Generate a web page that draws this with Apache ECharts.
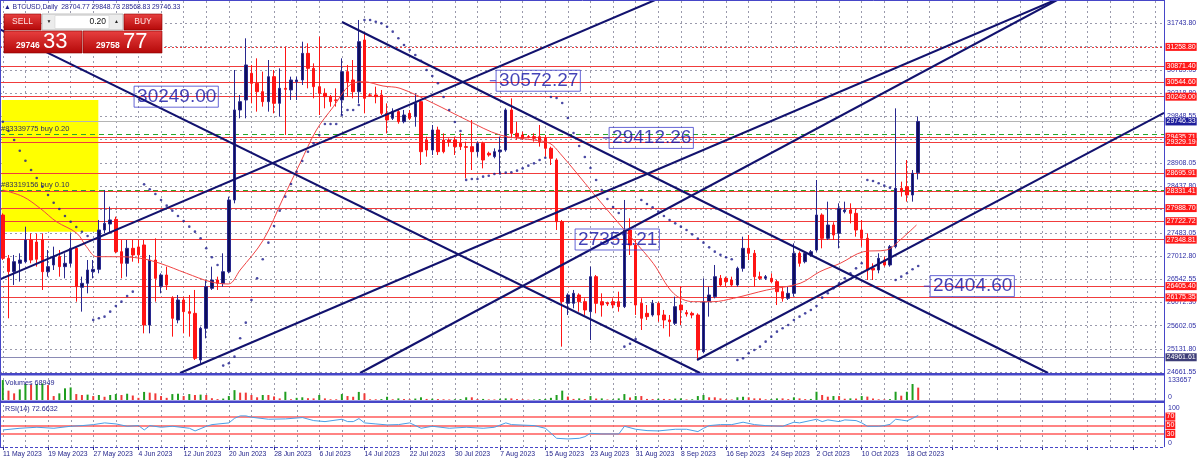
<!DOCTYPE html>
<html><head><meta charset="utf-8">
<script src="https://cdn.jsdelivr.net/npm/echarts@6/dist/echarts.min.js"></script>
<style>html,body{margin:0;padding:0;background:#fff;}#c{width:1200px;height:462px;}</style>
</head><body><div id="c"></div>
<script>
// ---------------- DATA ----------------
const symbolTitle = 'BTCUSD,Daily';
const firstDay = [2023, 4, 11];           // 11 May 2023
const totalSlots = 206;                   // bars visible incl. empty right margin

const opens = [27848,26969,26700,26868,26901,27341,27300,27341,26698,26834,
27003,26800,26868,27172,26381,26462,26698,26746,27544,27665,
27760,27104,26868,27172,27200,27240,25616,26935,26400,26631,
26158,25718,26124,25887,25853,24906,25549,26360,26529,26462,
26698,28153,29979,30182,30723,30520,30351,30148,30655,30114,
30418,30385,30553,30587,31128,30824,30452,30317,30249,30182,
30182,30757,30587,30351,31399,30283,30283,30283,29911,29810,
29945,29742,29911,29843,30148,29370,29167,29573,29370,29370,
29370,29302,29235,29235,29133,29302,29100,29032,29133,29167,
29979,29505,29471,29438,29438,29438,29404,29201,28964,27713,
26056,26056,26225,26090,25887,26597,26090,26070,26090,26090,
25989,27544,27239,26056,25853,25819,26056,25819,25718,25650,
26022,25867,25853,25819,25075,26090,26191,26563,26563,26529,
26428,26766,27172,27071,26597,26563,26563,26496,26293,26158,
26259,27071,26901,27037,27138,27848,27375,27645,27476,27916,
27949,27882,27544,27375,26766,26732,26935,26834,27206,28389,
28423,28254,28704.77];
const closes = [26969,26700,26901,26935,27341,26935,26950,26698,26800,27003,
26800,26868,27172,26394,26462,26732,26746,27544,27679,27747,
27104,26868,27172,27037,27040,25616,26935,26563,26631,26428,
25752,26124,25887,25853,24940,25549,26394,26529,26462,26698,
28153,29979,30148,30892,30520,30351,30148,30655,30114,30418,
30398,30587,30587,31128,30824,30452,30317,30249,30148,30175,
30757,30553,30351,31365,30216,30277,30249,29911,29776,29945,
29742,29877,29810,30114,29133,29167,29573,29133,29133,29336,
29235,29235,29221,29133,29302,28964,29066,29133,29167,29979,
29505,29438,29404,29424,29404,29336,29201,28998,27713,26090,
26225,26259,26090,25921,26597,26056,26022,26043,26022,25989,
27544,27239,26022,25752,25786,26056,25819,25718,25684,25989,
25921,25840,25819,25109,26090,26225,26597,26428,26496,26428,
26766,27172,27071,26597,26563,26597,26496,26293,26158,26259,
27071,26868,27071,27104,27848,27375,27645,27442,27983,27949,
27882,27544,27375,26732,26732,26969,26834,27206,28389,28322,
28254,28694,29746.33];
const lows = [26935,25752,26428,26496,26868,26868,26800,26327,26597,26732,
26597,26563,26800,26090,25887,26259,26563,26665,27476,27476,
27071,26563,26597,26901,26870,25447,25447,26090,26259,26327,
25380,25650,25447,25380,24906,24839,25346,26327,26327,26394,
26665,28085,29810,29810,30114,29945,30047,29945,29911,29843,
29471,30182,30182,30486,30418,30216,29877,30013,30047,30047,
29877,30249,30216,30114,29911,30249,30114,29877,29505,29776,
29700,29708,29776,29640,28863,29032,29066,29066,29100,29235,
29066,29167,28592,28761,29032,28795,29032,28998,28694,29133,
29404,29370,29370,29404,29336,29235,29032,28863,27544,25177,
25820,25955,25887,25820,25312,25853,25786,26002,25955,25887,
25960,27037,25820,25515,25718,25786,25684,25549,25380,25616,
25616,25786,25752,24906,25042,25786,26158,26394,26394,26394,
26394,26698,26935,26394,26529,26529,26462,26022,26090,26124,
26191,26800,26868,27003,27104,27172,27341,27341,27172,27882,
27679,27409,27206,26529,26529,26665,26800,26800,27172,28221,
28119,28119,28568.83];
const highs = [27882,27037,27037,27071,27611,27476,27470,27476,27138,27206,
27138,27071,27476,27206,26598,26935,26935,27747,28356,28018,
27814,27341,27341,27341,27340,27341,27037,27375,26665,26800,
26200,26225,26191,26225,26327,25583,26529,26800,26597,27071,
28220,30790,30283,31433,30892,31027,30757,30993,30790,30824,
31264,30655,30655,31365,31331,30925,31467,30418,30283,30418,
31027,30892,30993,31805,31534,30317,30452,30385,30114,30013,
30000,29979,29979,30317,30182,29438,29674,29640,29505,29404,
29438,29505,29336,29776,29336,29336,29133,29201,29438,30013,
30215,29742,29539,29471,29505,29674,29471,29235,28998,27747,
26259,26327,26259,26158,26800,26631,26259,26090,26158,26293,
28153,27781,27341,26158,26022,26124,26090,25921,25819,26191,
26394,25921,25887,25853,26563,26394,26834,26631,26597,26597,
26800,27409,27442,27138,26698,26631,26665,26529,26394,26394,
27273,27110,27104,27138,28558,27882,28119,27700,28085,28119,
28085,27983,27747,27476,26868,27071,27003,27240,30012,28525,
28964,28761,29848.73];

const volumes = [111000,52000,37000,59000,89000,86000,89000,92000,83000,22000,
37000,65000,70000,33000,28000,30000,22000,28000,18000,28000,
33000,28000,35000,25000,12000,45000,41000,37000,22000,12000,
33000,35000,22000,33000,28000,30000,28000,10000,5000,8000,
22000,55000,41000,41000,28000,15000,28000,28000,20000,9000,
46000,4000,12000,15000,10000,9000,28000,9000,4000,4000,
33000,22000,18000,45000,37000,4000,4000,5000,18000,4000,
9000,5000,4000,8000,15000,6000,7000,5000,4000,3000,
4000,5000,15000,15000,5000,6000,3000,3000,7000,9000,
9000,5000,4000,2000,3000,5000,6000,12000,28000,52000,
19000,6000,9000,5000,22000,8000,9000,3000,4000,9000,
33000,14000,22000,22000,6000,5000,7000,6000,5000,8000,
9000,3000,4000,22000,28000,15000,15000,9000,4000,3000,
15000,18000,15000,9000,9000,4000,5000,9000,9000,5000,
15000,9000,5000,6000,46000,28000,18600,22000,22000,7000,
9000,8000,22000,19000,9000,4000,3000,5000,46000,24000,
46000,89000,68949];
const volumeMax = 133657;

// Parabolic SAR dots [bar, price]
const sarPoints = [[0,29741],[1,29552],[2,29369],[3,29152],[4,28950],[5,28761],[6,28599],[7,28423],[8,28254],[9,28098],
[10,27970],[11,27828],[12,27712],[13,27605],[14,27509],[15,27422],
[16,25720],[17,25752],[18,25786],[19,25887],[20,26002],[21,26090],[22,26205],[23,26293],
[25,28470],[26,28369],[27,28274],[28,28153],[29,28038],[30,27936],[31,27828],[32,27727],[33,27612],[34,27510],[35,27375],[36,27172],[37,26990],[38,26834],
[39,24792],[40,24839],[41,24974],[42,25346],[43,25664],[44,26124],[45,26563],[46,26949],[47,27287],[48,27625],[49,27936],[50,28220],[51,28477],[52,28727],[53,28944],[54,29133],[55,29302],[56,29471],[57,29695],[58,29695],[59,29695],[60,29877],[61,29979],[62,29979],[63,30080],
[64,31805],[65,31805],[66,31770],[67,31737],[68,31669],[69,31568],[70,31433],[71,31297],[72,31196],[73,31095],[74,30979],[75,30790],[76,30668],[77,30520],[78,30242],[79,29978],[80,29735],[81,29552],
[82,28560],[83,28579],[84,28579],[85,28626],[86,28646],[87,28680],[88,28690],[89,28707],[90,28714],[91,28748],[92,28795],[93,28849],[94,28896],[95,28964],[96,29010],
[97,30242],[98,30222],[99,30120],[100,29816],[101,29512],[102,29248],[103,29025],[104,28802],[105,28558],[106,28356],[107,28173],[108,28011],[109,27889],
[110,25177],[111,25237],[112,25330],
[113,28153],[114,28072],[115,28004],[116,27916],[117,27828],[118,27747],[119,27679],[120,27612],[121,27544],[122,27456],[123,27368],[124,27287],[125,27192],[126,27104],[127,27040],[128,26990],[129,26950],
[130,24906],[131,24940],[132,25042],[133,25109],[134,25177],[135,25278],[136,25380],[137,25481],[138,25549],[139,25616],[140,25718],[141,25786],[142,25853],[143,25921],[144,26002],[145,26171],[146,26259],[147,26360],[148,26462],[149,26563],[150,26665],[151,26766],[152,26868],
[153,28558],[154,28538],[155,28491],[156,28444],[157,28403],
[158,26529],[159,26597],[160,26665],[161,26746],[162,26814]];

// red moving average, read at points [bar, price]
const maPoints = [[0,28355],[3.6,28219],[6.6,27984],[9.5,27712],[13.1,27477],[14.8,27205],[16.6,27002],[20.2,27002],[24.3,26970],[27.8,26868],
[32.5,26665],[36.7,26495],[39.9,26448],[42,26732],[46.1,27341],[49.6,28187],[52.6,28897],[55.5,29573],[58.5,30045],[61.4,30486],
[63.8,30553],[67.3,30465],[70.3,30419],[76.2,30114],[82.1,29776],[88,29471],[93.9,29370],[96.8,29303],[98.6,29100],[101.6,28694],
[104.5,28288],[108,27813],[111.6,27341],[115.1,26868],[118.7,26259],[122.2,26089],[125.7,26089],[129.3,26158],[135.2,26326],[141.1,26462],
[144.6,26698],[148.2,26868],[152.3,27103],[156.4,27138],[158.8,27341],[161.7,27645]];

// RSI(14) read at points [bar, value]
const rsiPoints = [[0,39.2],[3,43.1],[6,45.4],[9,43.1],[12,47.7],[14,49.2],[16,51.5],[18,55.4],[20,53.0],[22,47.7],[24,49.2],[25,39.2],[26,49.2],[28,45.4],[30,47.7],[33,43.1],[34,36.9],[36,47.7],[37,51.5],[40,55.4],[41,66.1],[42,71.5],[43,71.5],[44,68.4],[47,63.8],[50,64.6],[53,67.7],[55,60.7],[57,58.4],[60,63.8],[61,58.4],[62,58.4],[63,65.3],[64,55.4],[66,53.0],[68,50.8],[70,51.5],[72,55.4],[74,43.1],[76,47.7],[79,43.1],[82,45.4],[85,43.1],[87,45.4],[89,55.4],[90,51.5],[94,49.2],[96,43.1],[98,20.0],[100,18.5],[102,20.0],[103,23.8],[104,31.5],[106,30.0],[109,30.0],[110,47.7],[112,40.8],[114,37.7],[116,36.9],[119,40.8],[121,40.8],[123,35.4],[124,43.1],[125,49.2],[127,51.5],[129,51.5],[131,57.0],[133,51.5],[135,49.2],[138,47.7],[140,57.0],[141,55.4],[144,63.8],[145,58.4],[146,62.3],[148,58.4],[149,62.3],[151,60.7],[152,55.4],[153,47.7],[155,47.7],[156,49.2],[157,52.0],[158,63.8],[159,62.0],[160,60.0],[161,66.0],[162,72.6632]];
const rsiLevels = [70, 50, 30];
const rsiLast = 72.6632;
const volumeLast = 68949;

// right price-axis tick labels
const priceTicks = [31743.80,31273.55,30789.05,30318.80,29848.55,29378.30,28908.05,28437.80,27967.55,27483.05,27012.80,26542.55,26072.30,25602.05,25131.80,24661.55];
// horizontal support / resistance levels
const redLevels = [30871.40,30544.60,30249.00,29435.71,29329.19,28695.91,28331.41,27988.70,27722.72,27348.81,26405.40,26175.35];
const dottedLevel = 31258.80;
const lowLevel = 24961.61;
// open orders
const orders = [{price: 29486, text: '#83339775 buy 0.20'}, {price: 28356, text: '#83319156 buy 0.10'}];
// trend lines: [[bar, price], [bar, price]]
const trendLines = [
  [[-0.5,31612],[123.39,24642.3]],
  [[60.03,31764],[184.98,24642.3]],
  [[-0.5,26541],[115.43,32210.5]],
  [[31.36,24642.3],[186.22,32210.5]],
  [[63.22,24642.3],[186.58,32210.5]],
  [[122.86,24906],[205.5,29918]]
];
// price annotations: price, bar where the box begins, and whether a pointer tick precedes it
const annotations = [{price:30249.00, at:23.22, tick:false},{price:30572.27, at:87.29, tick:true},{price:29412.26, at:107.29, tick:true},{price:27351.21, at:101.27, tick:false},{price:26404.60, at:164.1, tick:true}];
// highlighted zone [bar, price] corners
const zone = [[-0.2, 30181], [16.9, 27509]];
const bid = 29746, bidFrac = '33', ask = 29758, askFrac = '77', lots = '0.20';

// ---------------- BUILD ----------------
const months = ['Jan','Feb','Mar','Apr','May','Jun','Jul','Aug','Sep','Oct','Nov','Dec'];
const categories = [];
for (let i = 0; i < totalSlots; i++) {
  if (i < opens.length) {
    const d = new Date(Date.UTC(firstDay[0], firstDay[1], firstDay[2] + i));
    categories.push(d.getUTCDate() + ' ' + months[d.getUTCMonth()] + ' ' + d.getUTCFullYear());
  } else categories.push('');
}
const verticals = [];
for (let k = 0; k < totalSlots; k += 4) verticals.push({xAxis: k});

const FONT = 'Liberation Sans, Arial, sans-serif';
const NAVY = '#12126e';
const FRAME = '#4646c8';
const GRIDC = '#9a9aac';
const LEVELRED = '#f03c3c';
const VMIN = -0.5, VMAX = totalSlots - 0.5;
const PMIN = 24642.3, PMAX = 32210.5;

const candleData = opens.map((o, i) => [o, closes[i], lows[i], highs[i]]);
const volData = volumes.map((v, i) => ({value: v, itemStyle: {color: (i === 0 || v > volumes[i-1]) ? '#1f9e1f' : '#f03838'}}));

function gridLineSeries(xIdx, yIdx, yVal) {
  return {type:'line', xAxisIndex:xIdx, yAxisIndex:yIdx, data:[[-5, yVal]], symbol:'none', silent:true, z:1,
    markLine:{silent:true, symbol:'none', z:1, animation:false, label:{show:false},
      lineStyle:{color:GRIDC, type:[2,3], width:1}, data: verticals}};
}

const series = [];
series.push(gridLineSeries(1, 0, 0));
series.push(gridLineSeries(3, 1, -10));
series.push(gridLineSeries(5, 2, -10));
// horizontal price grid + labels
series.push({type:'line', xAxisIndex:1, yAxisIndex:0, data:[[-5,0]], symbol:'none', silent:true, z:1,
  markLine:{silent:true, symbol:'none', z:1, animation:false,
    lineStyle:{color:GRIDC, type:[2,3], width:1},
    label:{show:true, position:'end', distance:3, color:'#2e2ea6', fontSize:7, fontFamily:FONT, formatter: p => p.value.toFixed(2)},
    data: priceTicks.map(v => ({yAxis: v}))}});
// highlighted zone
series.push({type:'line', xAxisIndex:1, yAxisIndex:0, data:[[-5,0]], symbol:'none', silent:true, z:2,
  markArea:{silent:true, z:2, itemStyle:{color:'#ffff00', opacity:1}, label:{show:false},
    data:[[{xAxis:zone[0][0], yAxis:zone[0][1]}, {xAxis:zone[1][0], yAxis:zone[1][1]}]]}});
// level lines
const levelData = [];
const boxLabel = (bg) => ({show:true, position:'end', distance:1.5, color:'#ffffff', backgroundColor:bg, fontSize:7, fontFamily:FONT, padding:[1,1,0,1], formatter: p => p.value.toFixed(2)});
levelData.push({yAxis: dottedLevel, lineStyle:{color:LEVELRED, type:[2,2], width:1}, label: boxLabel('#ff1a1a')});
redLevels.forEach(v => levelData.push({yAxis: v, lineStyle:{color:LEVELRED, type:'solid', width:1}, label: boxLabel('#ff1a1a')}));
orders.forEach(o => levelData.push({yAxis: o.price, lineStyle:{color:'#2aa52a', type:[5,4], width:1},
  label:{show:true, position:'insideStartTop', distance:1, color:'#30305a', fontSize:7.5, fontFamily:FONT, formatter: o.text}}));
levelData.push({yAxis: closes[closes.length-1], lineStyle:{color:'#b4b4b4', type:'solid', width:1}, label: boxLabel('#1e1e9c')});
levelData.push({yAxis: lowLevel, lineStyle:{color:'#8a8ab4', type:'solid', width:1}, label: boxLabel('#3e3e78')});
series.push({type:'line', xAxisIndex:1, yAxisIndex:0, data:[[-5,0]], symbol:'none', silent:true, z:3,
  markLine:{silent:true, symbol:'none', z:3, animation:false, data: levelData}});
// candles
series.push({type:'candlestick', xAxisIndex:0, yAxisIndex:0, data:candleData, barWidth:3, z:4, silent:true,
  itemStyle:{color:'#0e0e5c', color0:'#ff1414', borderColor:'#28288e', borderColor0:'#ff1414', borderWidth:1}});
// moving average
series.push({type:'line', xAxisIndex:1, yAxisIndex:0, data:maPoints, symbol:'none', smooth:0.35, z:5, silent:true,
  lineStyle:{color:'#f04444', width:1}});
// trend lines
trendLines.forEach(seg => series.push({type:'line', xAxisIndex:1, yAxisIndex:0, data:seg, symbol:'none', z:5, silent:true,
  lineStyle:{color:NAVY, width:2}}));
// SAR
series.push({type:'scatter', xAxisIndex:1, yAxisIndex:0, data:sarPoints, symbol:'circle', symbolSize:2.6, z:6, silent:true,
  itemStyle:{color:'#1c1c8c'}});
// annotation pointer ticks
annotations.filter(a => a.tick).forEach(a => series.push({type:'line', xAxisIndex:1, yAxisIndex:0,
  data:[[a.at - 1.1, a.price], [a.at, a.price]], symbol:'none', z:7, silent:true, lineStyle:{color:'#3a3ac8', width:1}}));
// annotation boxes
series.push({type:'scatter', xAxisIndex:1, yAxisIndex:0, symbolSize:0.1, z:7, silent:true,
  itemStyle:{color:'rgba(0,0,0,0)'},
  data: annotations.map(a => ({value:[a.at, a.price], label:{formatter: a.price.toFixed(2)}})),
  label:{show:true, position:'right', distance:0, color:'#1414a6', fontSize:19, fontFamily:FONT,
    borderColor:'#4040cc', borderWidth:1, padding:[2,2,0,3]}});
// volumes
series.push({type:'bar', xAxisIndex:2, yAxisIndex:1, data:volData, barWidth:2, z:4, silent:true});
// RSI
series.push({type:'line', xAxisIndex:5, yAxisIndex:2, data:rsiPoints, symbol:'none', z:4, silent:true,
  lineStyle:{color:'#4a9ee6', width:1},
  markLine:{silent:true, symbol:'none', z:3, animation:false,
    lineStyle:{color:'#ff5a5a', width:1.5, type:'solid'},
    label:{show:true, position:'end', distance:1.5, color:'#fff', backgroundColor:'#ff1a1a', fontSize:7, fontFamily:FONT, padding:[1,1,0,1]},
    data: rsiLevels.map(v => ({yAxis: v}))}});

const redGrad = () => new echarts.graphic.LinearGradient(0,0,0,1,[{offset:0,color:'#e84040'},{offset:1,color:'#b40808'}]);
const txt = (text, x, y, font, fill, align) => ({type:'text', z:101, style:{text, x, y, font, fill, align: align||'left', verticalAlign:'middle'}});

const graphics = [
  {type:'line', z:50, shape:{x1:0.5,y1:0,x2:0.5,y2:447}, style:{stroke:FRAME, lineWidth:1}},
  {type:'line', z:50, shape:{x1:1164.5,y1:0,x2:1164.5,y2:447}, style:{stroke:FRAME, lineWidth:1}},
  {type:'line', z:50, shape:{x1:0,y1:0.5,x2:1165,y2:0.5}, style:{stroke:FRAME, lineWidth:1}},
  {type:'rect', z:50, shape:{x:0,y:373,width:1165,height:2.5}, style:{fill:FRAME}},
  {type:'rect', z:50, shape:{x:0,y:400.5,width:1165,height:2.5}, style:{fill:FRAME}},
  {type:'line', z:50, shape:{x1:0,y1:447.5,x2:1165,y2:447.5}, style:{stroke:FRAME, lineWidth:1, lineDash:[3,2]}},
  // panel labels
  {type:'text', z:60, style:{text:'\u25B2 ' + symbolTitle + '  ' + opens[opens.length-1].toFixed(2) + ' ' + highs[highs.length-1].toFixed(2) + ' ' + lows[lows.length-1].toFixed(2) + ' ' + closes[closes.length-1].toFixed(2), x:4, y:7, font:'6.8px ' + FONT, fill:'#1e1e8c', verticalAlign:'middle'}},
  {type:'text', z:60, style:{text:'Volumes ' + volumeLast, x:5, y:383, font:'7.2px ' + FONT, fill:'#1e1e8c', verticalAlign:'middle'}},
  {type:'text', z:60, style:{text:'RSI(14) ' + rsiLast.toFixed(4), x:5, y:409, font:'7.2px ' + FONT, fill:'#1e1e8c', verticalAlign:'middle'}},
  {type:'text', z:60, style:{text:String(volumeMax), x:1168, y:380, font:'7px ' + FONT, fill:'#2e2ea6', verticalAlign:'middle'}},
  {type:'text', z:60, style:{text:'0', x:1168, y:397, font:'7px ' + FONT, fill:'#2e2ea6', verticalAlign:'middle'}},
  {type:'text', z:60, style:{text:'100', x:1168, y:408, font:'7px ' + FONT, fill:'#2e2ea6', verticalAlign:'middle'}},
  {type:'text', z:60, style:{text:'0', x:1168, y:443, font:'7px ' + FONT, fill:'#2e2ea6', verticalAlign:'middle'}},
  // trade panel
  {type:'rect', z:100, shape:{x:4,y:14,width:37,height:16}, style:{fill:redGrad(), stroke:'#8c0000', lineWidth:0.6}},
  txt('SELL', 22.5, 22, '8.5px ' + FONT, '#ffe4e4', 'center'),
  {type:'rect', z:100, shape:{x:42,y:14,width:81,height:16}, style:{fill:'#ececec', stroke:'#9c9c9c', lineWidth:0.6}},
  {type:'rect', z:100, shape:{x:55,y:15.5,width:54,height:13}, style:{fill:'#ffffff', stroke:'#c8c8c8', lineWidth:0.5}},
  txt('\u25BC', 49, 22, '5px ' + FONT, '#222', 'center'),
  txt('\u25B2', 116.5, 22, '5px ' + FONT, '#222', 'center'),
  txt(lots, 106, 22, '8.5px ' + FONT, '#111', 'right'),
  {type:'rect', z:100, shape:{x:124,y:14,width:38,height:16}, style:{fill:redGrad(), stroke:'#8c0000', lineWidth:0.6}},
  txt('BUY', 143, 22, '8.5px ' + FONT, '#ffe4e4', 'center'),
  {type:'rect', z:100, shape:{x:4,y:31,width:78,height:22}, style:{fill:redGrad(), stroke:'#8c0000', lineWidth:0.6}},
  txt(String(bid), 16, 45.5, 'bold 8.5px ' + FONT, '#ffffff'),
  txt(bidFrac, 43, 42, '22px ' + FONT, '#ffffff'),
  {type:'rect', z:100, shape:{x:83,y:31,width:79,height:22}, style:{fill:redGrad(), stroke:'#8c0000', lineWidth:0.6}},
  txt(String(ask), 96, 45.5, 'bold 8.5px ' + FONT, '#ffffff'),
  txt(askFrac, 123, 42, '22px ' + FONT, '#ffffff')
];

const option = {
  animation: false,
  backgroundColor: '#ffffff',
  grid: [
    {left:0, top:0, width:1164, height:373},
    {left:0, top:376, width:1164, height:24},
    {left:0, top:403.5, width:1164, height:43.5}
  ],
  xAxis: [
    {type:'category', gridIndex:0, data:categories, show:false},
    {type:'value', gridIndex:0, min:VMIN, max:VMAX, show:false},
    {type:'category', gridIndex:1, data:categories, show:false},
    {type:'value', gridIndex:1, min:VMIN, max:VMAX, show:false},
    {type:'category', gridIndex:2, data:categories, position:'bottom',
      axisLine:{show:false},
      axisTick:{show:true, interval:7, alignWithLabel:true, length:3, lineStyle:{color:'#2a2a90'}},
      axisLabel:{interval:7, align:'left', color:'#24248c', fontSize:6.8, fontFamily:FONT, margin:4},
      splitLine:{show:false}},
    {type:'value', gridIndex:2, min:VMIN, max:VMAX, show:false}
  ],
  yAxis: [
    {type:'value', gridIndex:0, min:PMIN, max:PMAX, show:false, splitLine:{show:false}},
    {type:'value', gridIndex:1, min:0, max:volumeMax, show:false, splitLine:{show:false}},
    {type:'value', gridIndex:2, min:0, max:100, show:false, splitLine:{show:false}}
  ],
  series: series,
  graphic: {elements: graphics}
};
const chart = echarts.init(document.getElementById('c'), null, {renderer:'canvas'});
chart.setOption(option);
</script>
</body></html>
